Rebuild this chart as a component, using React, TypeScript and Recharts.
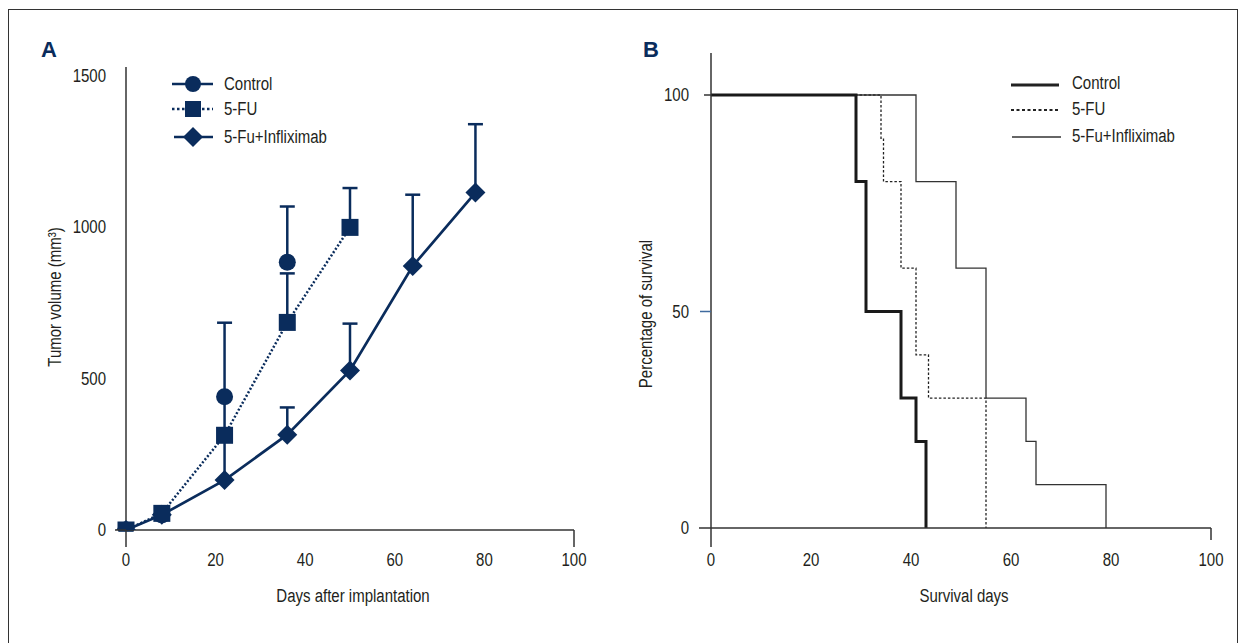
import React from "react";
import { LineChart, Line, XAxis, YAxis, ErrorBar, Legend } from "recharts";

const NAVY = "#0a2c5c";
const INK = "#231f20";
const AXIS = "#333";
const FONT = '"Liberation Sans", Arial, sans-serif';
const FS = 19;
const SX = 0.79; // squeeze Liberation Sans to look like a condensed face

// A: tumor volume (mm3) vs days after implantation
const daysA = [0, 8, 22, 36, 50, 64, 78];
const controlVol = [0, 50, 440, 885];
const controlErr = [[0, 0], [0, 0], [0, 245], [0, 184]];
const fuVol = [0, 55, 313, 686, 1000];
const fuErr = [[0, 0], [0, 0], [0, 127], [0, 162], [0, 130]];
const inflVol = [0, 50, 165, 315, 527, 872, 1115];
const inflErr = [[0, 0], [0, 0], [0, 148], [0, 90], [0, 155], [0, 236], [0, 226]];
const ticksAX = [0, 20, 40, 60, 80, 100];
const ticksAY = [0, 500, 1000, 1500];
const seriesA = ["Control", "5-FU", "5-Fu+Infliximab"];

// B: Kaplan-Meier survival
const ctrlDays = [0, 29, 31, 38, 41, 43];
const ctrlSurv = [100, 80, 50, 30, 20, 0];
const fuDays = [0, 34, 34.5, 38, 41, 43.5, 55];
const fuSurv = [100, 90, 80, 60, 40, 30, 0];
const inflDays = [0, 41, 49, 55, 63, 65, 79];
const inflSurv = [100, 80, 60, 30, 20, 10, 0];
const ticksBX = [0, 20, 40, 60, 80, 100];
const ticksBY = [0, 50, 100];
const seriesB = ["Control", "5-FU", "5-Fu+Infliximab"];

const toA = (vals: number[], errs: number[][]) =>
  vals.map((v, i) => ({ day: daysA[i], vol: v, err: errs[i] }));
const toB = (days: number[], surv: number[]) =>
  days.map((d, i) => ({ day: d, pct: surv[i] }));

const controlA = toA(controlVol, controlErr);
const fuA = toA(fuVol, fuErr);
const inflA = toA(inflVol, inflErr);
const ctrlB = toB(ctrlDays, ctrlSurv);
const fuB = toB(fuDays, fuSurv);
const inflB = toB(inflDays, inflSurv);

const T = ({ x, y, anchor = "start", rotate = 0, children }: any) => (
  <g transform={`translate(${x},${y}) rotate(${rotate}) scale(${SX},1)`}>
    <text x={0} y={0} textAnchor={anchor} dominantBaseline="central" fontFamily={FONT} fontSize={FS} fill={INK}>
      {children}
    </text>
  </g>
);

const circleDot = (p: any) => <circle key={"c" + p.index} cx={p.cx} cy={p.cy} r={8.5} fill={NAVY} />;
const squareDot = (p: any) => (
  <rect key={"s" + p.index} x={p.cx - 8.5} y={p.cy - 8.5} width={17} height={17} fill={NAVY} />
);
const diamondDot = (p: any) => (
  <polygon
    key={"d" + p.index}
    points={`${p.cx},${p.cy - 10} ${p.cx + 10},${p.cy} ${p.cx},${p.cy + 10} ${p.cx - 10},${p.cy}`}
    fill={NAVY}
  />
);

// tick lines only where the original has them
const XTickA = ({ x, y, payload }: any) => (
  <g>
    {(payload.value === 0 || payload.value === 100) && (
      <line x1={x} y1={y} x2={x} y2={y + 17} stroke={AXIS} strokeWidth={1.5} />
    )}
    <T x={x} y={y + 30} anchor="middle">{payload.value}</T>
  </g>
);
const YTickA = ({ x, y, payload }: any) => (
  <g>
    {payload.value === 0 && <line x1={x - 11} y1={y} x2={x} y2={y} stroke={AXIS} strokeWidth={1.5} />}
    <T x={x - 20} y={y} anchor="end">{payload.value}</T>
  </g>
);
const XTickB = ({ x, y, payload }: any) => (
  <g>
    {(payload.value === 0 || payload.value === 100) && (
      <line x1={x} y1={y} x2={x} y2={y + (payload.value === 0 ? 19 : 12)} stroke={AXIS} strokeWidth={1.5} />
    )}
    <T x={x} y={y + 32} anchor="middle">{payload.value}</T>
  </g>
);
const YTickB = ({ x, y, payload }: any) => {
  const len = payload.value === 100 ? 7 : payload.value === 50 ? 11 : 12;
  const col = payload.value === 50 ? "#3f6a9e" : AXIS;
  return (
    <g>
      <line x1={x - len} y1={y} x2={x} y2={y} stroke={col} strokeWidth={1.5} />
      <T x={x - 22} y={y} anchor="end">{payload.value}</T>
    </g>
  );
};

const LegendA = () => {
  const rows = [14, 39, 67];
  return (
    <svg width={190} height={82}>
      <line x1={2} y1={rows[0]} x2={43} y2={rows[0]} stroke={NAVY} strokeWidth={2.7} />
      <circle cx={23} cy={rows[0]} r={8} fill={NAVY} />
      <line x1={2} y1={rows[1]} x2={43} y2={rows[1]} stroke={NAVY} strokeWidth={2.7} strokeDasharray="2.5 2.5" />
      <rect x={15} y={rows[1] - 8} width={16} height={16} fill={NAVY} />
      <line x1={4} y1={rows[2]} x2={43} y2={rows[2]} stroke={NAVY} strokeWidth={2.7} />
      <polygon points={`23,${rows[2] - 10} 33,${rows[2]} 23,${rows[2] + 10} 13,${rows[2]}`} fill={NAVY} />
      {seriesA.map((s, i) => (
        <T key={s} x={54} y={rows[i]}>{s}</T>
      ))}
    </svg>
  );
};

const LegendB = () => {
  const rows = [14, 40, 67];
  return (
    <svg width={200} height={82}>
      <line x1={11} y1={rows[0] + 1} x2={59} y2={rows[0] + 1} stroke="#222" strokeWidth={3} />
      <line x1={11} y1={rows[1]} x2={59} y2={rows[1]} stroke="#222" strokeWidth={2.2} strokeDasharray="3 2.5" />
      <line x1={12} y1={rows[2]} x2={61} y2={rows[2]} stroke="#333" strokeWidth={1.3} />
      {seriesB.map((s, i) => (
        <T key={s} x={72} y={rows[i] - 1}>{s}</T>
      ))}
    </svg>
  );
};

export default function App() {
  return (
    <div style={{ position: "absolute", left: 0, top: 0, width: 1246, height: 643, background: "#fff" }}>
      <div
        style={{
          position: "absolute",
          left: 8,
          top: 9,
          width: 1228,
          height: 660,
          borderTop: "1.5px solid #333",
          borderLeft: "1.5px solid #333",
          borderRight: "1.5px solid #333",
        }}
      />
      <div style={{ position: "absolute", left: 0, top: 0 }}>
        <LineChart width={620} height={643} margin={{ top: 67, right: 46, bottom: 0, left: 0 }}>
          <XAxis
            type="number"
            dataKey="day"
            domain={[0, 100]}
            ticks={ticksAX}
            interval={0}
            height={113}
            tickSize={0}
            tickMargin={0}
            tickLine={false}
            tick={<XTickA />}
            axisLine={{ stroke: AXIS, strokeWidth: 1.5 }}
          />
          <YAxis
            type="number"
            domain={[0, 1530]}
            allowDataOverflow
            ticks={ticksAY}
            interval={0}
            width={126}
            tickSize={0}
            tickMargin={0}
            tickLine={false}
            tick={<YTickA />}
            axisLine={{ stroke: AXIS, strokeWidth: 1.5 }}
          />
          <Legend
            layout="vertical"
            align="center"
            verticalAlign="middle"
            content={<LegendA />}
            wrapperStyle={{ left: 170, top: 70, width: 190, height: 82 }}
          />
          <Line
            data={inflA}
            dataKey="vol"
            name="5-Fu+Infliximab"
            stroke={NAVY}
            strokeWidth={2.7}
            dot={diamondDot}
            activeDot={false}
            isAnimationActive={false}
          >
            <ErrorBar dataKey="err" direction="y" width={7.5} stroke={NAVY} strokeWidth={2.5} />
          </Line>
          <Line
            data={controlA}
            dataKey="vol"
            name="Control"
            stroke="none"
            strokeWidth={0}
            dot={circleDot}
            activeDot={false}
            isAnimationActive={false}
          >
            <ErrorBar dataKey="err" direction="y" width={7.5} stroke={NAVY} strokeWidth={2.5} />
          </Line>
          <Line
            data={fuA}
            dataKey="vol"
            name="5-FU"
            stroke={NAVY}
            strokeWidth={2.5}
            strokeDasharray="2 2"
            dot={squareDot}
            activeDot={false}
            isAnimationActive={false}
          >
            <ErrorBar dataKey="err" direction="y" width={7.5} stroke={NAVY} strokeWidth={2.5} />
          </Line>
        </LineChart>
      </div>
      <div style={{ position: "absolute", left: 620, top: 0 }}>
        <LineChart width={626} height={643} margin={{ top: 53, right: 35, bottom: 0, left: 0 }}>
          <XAxis
            type="number"
            dataKey="day"
            domain={[0, 100]}
            ticks={ticksBX}
            interval={0}
            height={115}
            tickSize={0}
            tickMargin={0}
            tickLine={false}
            tick={<XTickB />}
            axisLine={{ stroke: AXIS, strokeWidth: 1.5 }}
          />
          <YAxis
            type="number"
            domain={[0, 109.7]}
            allowDataOverflow
            ticks={ticksBY}
            interval={0}
            width={91}
            tickSize={0}
            tickMargin={0}
            tickLine={false}
            tick={<YTickB />}
            axisLine={{ stroke: AXIS, strokeWidth: 1.5 }}
          />
          <Legend
            layout="vertical"
            align="center"
            verticalAlign="middle"
            content={<LegendB />}
            wrapperStyle={{ left: 380, top: 70, width: 200, height: 82 }}
          />
          <Line
            data={fuB}
            dataKey="pct"
            name="5-FU"
            type="stepAfter"
            stroke="#222"
            strokeWidth={1.3}
            strokeDasharray="2.5 2"
            dot={false}
            activeDot={false}
            isAnimationActive={false}
          />
          <Line
            data={inflB}
            dataKey="pct"
            name="5-Fu+Infliximab"
            type="stepAfter"
            stroke="#333"
            strokeWidth={1.3}
            dot={false}
            activeDot={false}
            isAnimationActive={false}
          />
          <Line
            data={ctrlB}
            dataKey="pct"
            name="Control"
            type="stepAfter"
            stroke="#1a1a1a"
            strokeWidth={3}
            dot={false}
            activeDot={false}
            isAnimationActive={false}
          />
        </LineChart>
      </div>
      <svg
        width={1246}
        height={643}
        style={{ position: "absolute", left: 0, top: 0, pointerEvents: "none" }}
      >
        <text x={49} y={49} textAnchor="middle" dominantBaseline="central" fontFamily={FONT} fontWeight="bold" fontSize={22} fill={NAVY}>
          A
        </text>
        <text x={651} y={49} textAnchor="middle" dominantBaseline="central" fontFamily={FONT} fontWeight="bold" fontSize={22} fill={NAVY}>
          B
        </text>
        <T x={353} y={596} anchor="middle">Days after implantation</T>
        <T x={964} y={596} anchor="middle">Survival days</T>
        <T x={55} y={297} anchor="middle" rotate={-90}>Tumor volume (mm³)</T>
        <T x={646} y={314} anchor="middle" rotate={-90}>Percentage of survival</T>
      </svg>
    </div>
  );
}
